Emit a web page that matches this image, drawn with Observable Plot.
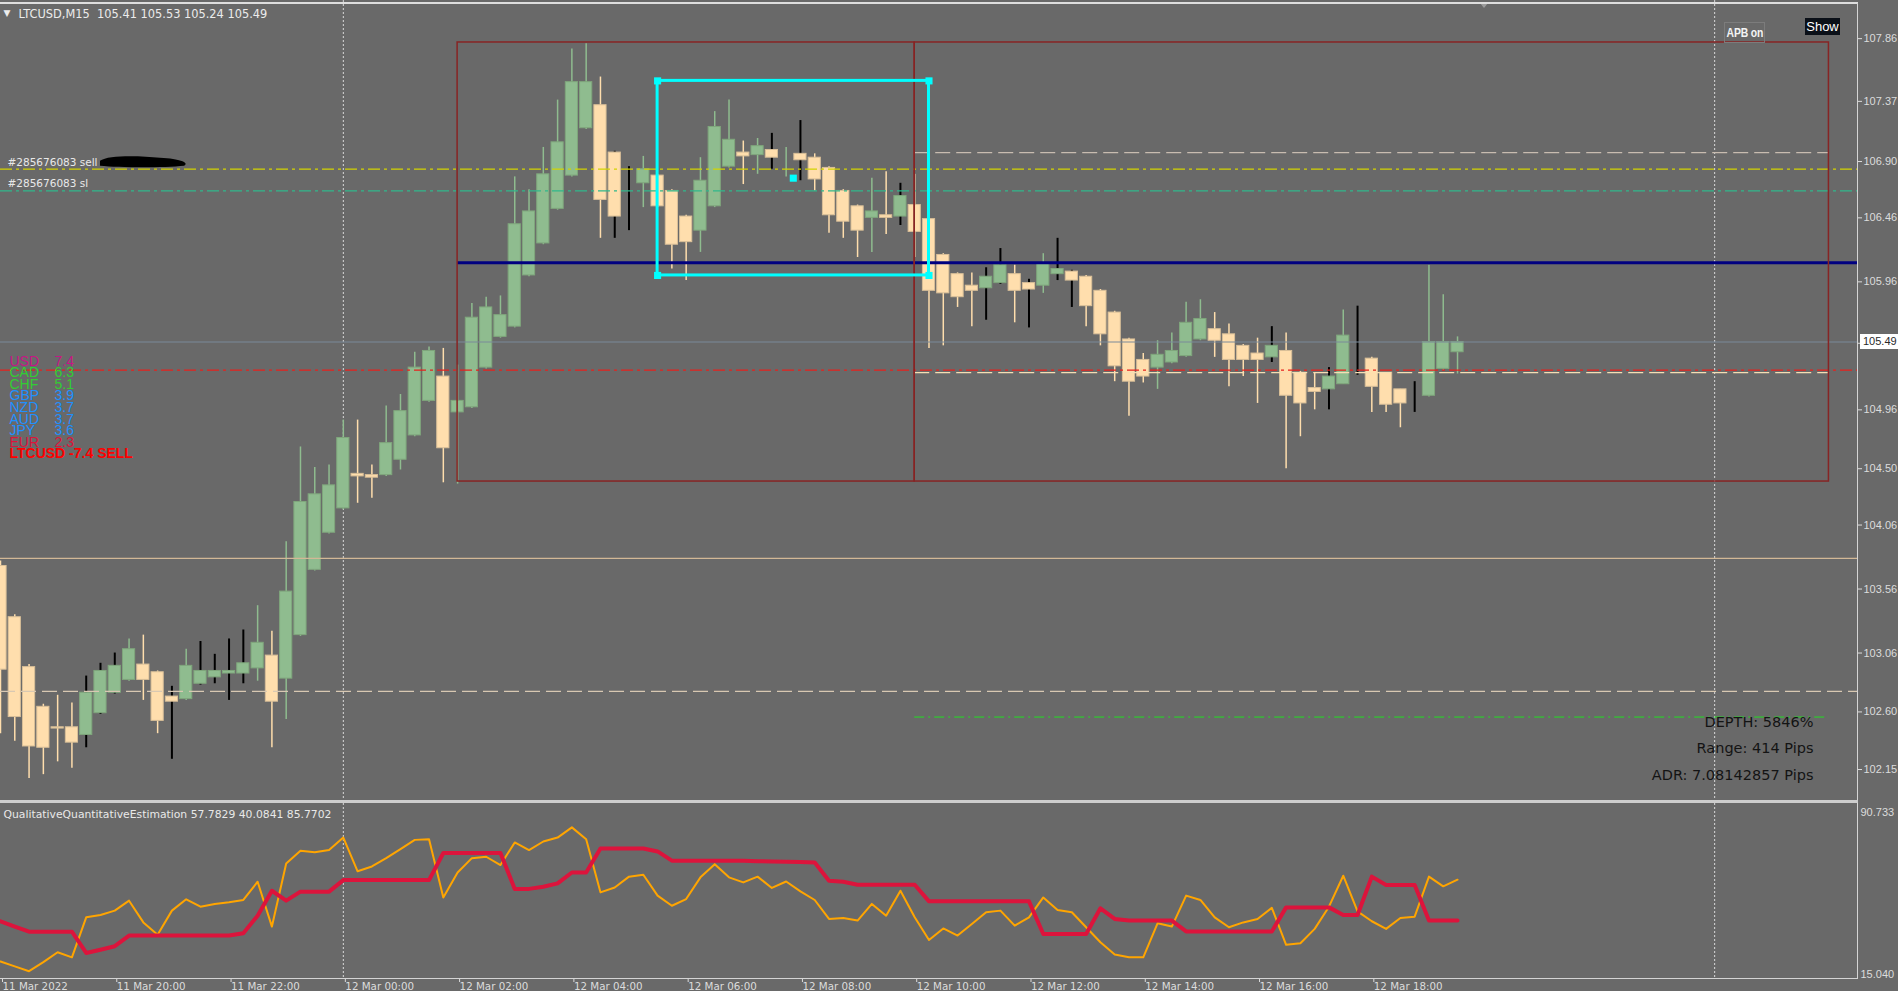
<!DOCTYPE html>
<html><head><meta charset="utf-8">
<script src="https://cdn.jsdelivr.net/npm/d3@7"></script>
<script src="https://cdn.jsdelivr.net/npm/@observablehq/plot@0.6"></script>
<style>
html,body{margin:0;padding:0;background:#696969;overflow:hidden}
#wrap{position:relative;width:1898px;height:991px;background:#696969;font-family:"DejaVu Sans",sans-serif}
#wrap svg{position:absolute;left:0;overflow:hidden}
svg text{white-space:pre}
.ln{position:absolute;background:#d6d6d6}
.btn{position:absolute;box-sizing:border-box;display:flex;align-items:center;justify-content:center;white-space:nowrap;overflow:hidden}
</style></head>
<body><div id="wrap"></div>
<script>
// ---------------- DATA ----------------
const symbol = "LTCUSD", timeframe = "M15";
const firstBarTime = "2022-03-11T18:00:00Z";
const barMinutes = 15;
const opens = [103.74,103.34,102.95,102.64,102.48,102.48,102.42,102.59,102.75,102.85,
102.97,102.91,102.72,102.70,102.82,102.87,102.90,102.90,102.94,103.04,
102.86,103.20,103.71,104.00,104.19,104.46,104.45,104.45,104.57,104.76,
105.03,105.22,104.94,104.98,105.29,105.53,105.61,106.01,106.26,106.53,
106.79,107.16,107.34,106.97,106.73,106.73,106.79,106.67,106.47,106.36,
106.55,106.86,106.97,106.95,106.99,106.95,106.96,106.93,106.85,106.67,
106.55,106.46,106.48,106.47,106.56,106.45,106.17,106.02,105.93,105.91,
105.95,106.02,105.95,105.93,106.02,106.04,106.00,105.89,105.72,105.51,
105.35,105.29,105.33,105.38,105.51,105.59,105.55,105.46,105.40,105.37,
105.42,105.25,105.13,105.12,105.16,105.36,105.36,105.25,105.12,105.07,
105.07,105.28,105.41];
const highs = [103.78,103.36,102.97,102.66,102.73,102.67,102.88,102.98,103.06,103.17,
103.20,102.92,102.80,103.09,103.15,103.05,103.17,103.24,103.43,103.23,
103.93,104.67,104.51,104.53,104.88,104.88,104.53,104.99,105.08,105.41,
105.45,105.44,105.31,105.79,105.84,105.85,106.78,106.68,107.01,107.38,
107.78,107.82,107.56,106.98,106.86,106.94,106.80,106.68,106.48,106.93,
107.29,107.38,107.06,107.08,107.12,107.01,107.22,106.96,106.86,106.68,
106.56,106.77,106.82,106.73,106.80,106.46,106.18,106.03,106.03,106.07,
106.22,106.09,105.98,106.18,106.30,106.05,106.01,105.90,105.73,105.52,
105.40,105.50,105.56,105.80,105.82,105.72,105.63,105.47,105.52,105.61,
105.56,105.26,105.25,105.29,105.74,105.77,105.37,105.25,105.12,105.18,
106.09,105.86,105.53];
const lows = [102.43,102.37,102.08,102.11,102.21,102.16,102.32,102.58,102.74,102.84,
102.69,102.43,102.23,102.69,102.81,102.82,102.69,102.82,102.84,102.32,
102.54,103.19,103.70,103.99,104.18,104.23,104.27,104.44,104.49,104.75,
105.02,104.39,104.38,104.97,105.28,105.52,105.60,106.00,106.25,106.52,
106.78,107.15,106.30,106.30,106.36,106.54,106.54,106.06,105.97,106.19,
106.54,106.85,106.72,106.80,106.84,106.78,106.75,106.67,106.34,106.30,
106.15,106.19,106.33,106.40,106.15,105.44,105.46,105.76,105.61,105.66,
105.94,105.64,105.60,105.87,105.97,105.76,105.61,105.46,105.18,104.91,
105.17,105.12,105.32,105.37,105.50,105.37,105.14,105.22,105.01,105.33,
104.50,104.75,104.96,104.96,105.16,105.23,104.94,104.94,104.82,104.94,
105.06,105.27,105.24];
const closes = [102.93,102.56,102.33,102.32,102.47,102.36,102.75,102.92,102.96,103.09,
102.85,102.53,102.68,102.96,102.92,102.92,102.92,102.98,103.14,102.68,
103.54,104.24,104.30,104.37,104.74,104.44,104.43,104.70,104.95,105.29,
105.42,104.66,105.03,105.68,105.76,105.70,106.41,106.51,106.80,107.05,
107.52,107.52,106.60,106.47,106.73,106.84,106.55,106.25,106.27,106.75,
107.17,107.07,106.94,107.02,106.93,106.95,106.91,106.76,106.48,106.43,
106.36,106.51,106.46,106.63,106.35,105.89,105.87,105.84,105.89,106.00,
106.09,105.89,105.90,106.10,106.06,105.97,105.77,105.55,105.30,105.18,
105.22,105.39,105.42,105.64,105.67,105.50,105.35,105.35,105.35,105.46,
105.07,105.01,105.10,105.22,105.54,105.36,105.14,105.00,105.01,105.07,
105.49,105.49,105.49];
// bars whose wick is painted black by an overlay indicator
const blackWickBars = [6,7,8,12,14,15,16,17,43,44,54,56,63,69,70,72,74,75,89,93,95,99];

// QualitativeQuantitativeEstimation buffers
const qqeFast = [22.4,20.3,18.2,22.1,26.4,24.2,41.5,42.5,44.4,48.7,
39.3,34.0,44.4,49.3,46.1,47.3,48.0,49.0,56.9,37.5,
64.8,70.3,69.6,70.6,76.0,61.4,63.5,67.1,71.0,75.0,
75.3,50.1,60.9,67.1,67.7,64.1,73.9,70.6,74.3,76.0,
80.4,75.3,52.3,54.4,59.1,59.9,50.9,46.5,49.4,58.8,
64.5,58.8,56.6,59.1,54.2,57.0,52.7,49.0,40.8,41.2,
40.1,47.3,42.2,53.0,41.5,31.7,36.7,33.6,38.6,43.7,
44.4,37.9,41.5,50.1,44.7,43.7,37.2,30.7,25.4,24.2,
24.2,38.9,37.5,50.9,49.0,41.5,37.2,39.3,40.8,45.6,
29.6,30.3,36.5,46.1,59.5,44.1,39.8,36.5,41.2,41.8,
59.1,54.9,57.7829];
const qqeSlow = [39.8,37.5,35.3,35.3,35.3,35.3,26.1,27.5,29.0,33.6,
33.6,33.6,33.6,33.6,33.6,33.6,33.6,34.6,42.2,53.0,
48.7,52.6,52.6,52.6,57.6,57.6,57.6,57.6,57.6,57.6,
57.6,69.3,69.3,69.3,69.3,69.3,53.8,53.8,54.7,56.2,
60.9,60.9,71.3,71.3,71.3,71.3,70.0,66.0,66.0,66.0,
66.0,66.0,66.0,65.8,65.6,65.5,65.4,65.2,57.3,56.9,
55.6,55.6,55.6,55.6,55.6,48.4,48.4,48.4,48.4,48.4,
48.4,48.4,48.4,34.3,34.3,34.3,34.3,45.4,40.8,40.1,
40.1,40.1,40.1,35.4,35.4,35.4,35.4,35.4,35.4,35.4,
45.8,45.8,45.8,45.8,42.5,42.5,59.1,55.5,55.5,55.5,
40.0841,40.0841,40.0841];
const qqeThird = 85.7702;
const qqeRange = [15.040, 90.733];

const priceTicks = [107.86,107.37,106.90,106.46,105.96,105.48,104.96,104.50,104.06,103.56,103.06,102.60,102.15];
const timeTicks = ["2022-03-11T18:00Z","2022-03-11T20:00Z","2022-03-11T22:00Z","2022-03-12T00:00Z","2022-03-12T02:00Z","2022-03-12T04:00Z","2022-03-12T06:00Z","2022-03-12T08:00Z","2022-03-12T10:00Z","2022-03-12T12:00Z","2022-03-12T14:00Z","2022-03-12T16:00Z","2022-03-12T18:00Z"];
const daySeparators = ["2022-03-12T00:00Z","2022-03-13T00:00Z"];

// chart objects
const zoneTimes = ["2022-03-12T02:00Z","2022-03-12T10:00Z","2022-03-13T02:00Z"];
const zonePrices = [104.40, 107.83];
const boxTimes = ["2022-03-12T05:30Z","2022-03-12T10:15Z"];
const boxPrices = [106.01, 107.53];
const pivotLevel = 106.11;
const tradeLabels = ["#285676083 sell", "#285676083 sl"];
const tradeLevels = [106.84, 106.67];
const redLevel = 105.27, tanLevel = 103.80, tanDashLevel = 102.76;
const zoneLevels = [106.97, 105.25, 102.56];

const currencies = ["USD","CAD","CHF","GBP","NZD","AUD","JPY","EUR"];
const strengths = [7.4,6.3,5.1,3.9,3.7,3.7,3.6,2.3];
const signalScore = -7.4, signalSide = "SELL";
const statsLabels = ["DEPTH: 5846%", "Range: 414 Pips", "ADR: 7.08142857 Pips"];

// ---------------- BUILD ----------------
const t0 = new Date(firstBarTime);
const barTime = i => new Date(+t0 + i * barMinutes * 60000);
const bars = opens.map((o, i) => ({t: barTime(i), o, h: highs[i], l: lows[i], c: closes[i], black: blackWickBars.includes(i)}));
const qqe = qqeFast.map((f, i) => ({t: barTime(i), fast: f, slow: qqeSlow[i]}));
const last = bars[bars.length - 1];
const viewEnd = barTime(130);
const D = s => new Date(s);

const BULL = "#8fbc8f", BEAR = "#ffdead";
const halfBody = 6.4 * 60000;
const xScale = {type: "utc", domain: [t0, viewEnd], range: [0, 1857]};
const font = "DejaVu Sans, sans-serif";
const arial = "Liberation Sans, Arial, sans-serif";
const strengthColor = v => v >= 7 ? "#c71585" : v >= 5 ? "#32cd32" : v >= 3 ? "#1e90ff" : "#dc143c";

const wrap = document.getElementById("wrap");

const zones = [{x1: D(zoneTimes[0]), x2: D(zoneTimes[1])}, {x1: D(zoneTimes[1]), x2: D(zoneTimes[2])}];
const box = {x1: D(boxTimes[0]), x2: D(boxTimes[1]), y1: boxPrices[0], y2: boxPrices[1]};
const handles = [
  {x: box.x1, y: box.y2}, {x: box.x2, y: box.y2}, {x: box.x1, y: box.y1}, {x: box.x2, y: box.y1},
  {x: new Date((+box.x1 + +box.x2) / 2), y: (box.y1 + box.y2) / 2}
];

const mainPlot = Plot.plot({
  width: 1898, height: 800,
  marginLeft: 0, marginTop: 0, marginBottom: 0, marginRight: 41,
  x: {...xScale, axis: null},
  y: {domain: [101.908, 108.158], range: [800, 0], axis: null},
  style: {background: "transparent", color: "#dcdcdc", fontFamily: font, fontSize: "11px"},
  marks: [
    Plot.ruleX(daySeparators.map(D), {stroke: "#d8d8d8", strokeDasharray: "2,2", strokeWidth: 1}),
    // candles
    Plot.ruleX(bars.filter(d => !d.black), {x: "t", y1: "l", y2: "h", stroke: d => d.c >= d.o ? BULL : BEAR, strokeWidth: 1.5}),
    Plot.ruleX(bars.filter(d => d.black), {x: "t", y1: "l", y2: "h", stroke: "#000", strokeWidth: 2}),
    Plot.rect(bars, {
      x1: d => new Date(+d.t - halfBody), x2: d => new Date(+d.t + halfBody),
      y1: "o", y2: "c",
      fill: d => d.c >= d.o ? BULL : BEAR,
      stroke: d => d.c >= d.o ? "#7fa67c" : "#d9bf98", strokeWidth: 1
    }),
    // horizontal objects
    Plot.ruleY([tanLevel], {stroke: "#d2b896", strokeWidth: 1.2}),
    Plot.ruleY([tanDashLevel], {stroke: "#d8c8b2", strokeWidth: 1.2, strokeDasharray: "15,6"}),
    Plot.ruleY([tradeLevels[0]], {stroke: "#d4d400", strokeWidth: 1.3, strokeDasharray: "12,4,3,4"}),
    Plot.ruleY([tradeLevels[1]], {stroke: "#30b88c", strokeWidth: 1.3, strokeDasharray: "12,4,3,4"}),
    Plot.ruleY([redLevel], {stroke: "#e8201c", strokeWidth: 1.2, strokeDasharray: "12,4,3,4"}),
    Plot.ruleY([zoneLevels[0]], {x1: D(zoneTimes[1]), x2: D(zoneTimes[2]), stroke: "#c8bcb0", strokeWidth: 1.3, strokeDasharray: "15,6"}),
    Plot.ruleY([zoneLevels[1]], {x1: D(zoneTimes[1]), x2: D(zoneTimes[2]), stroke: "#f5deb3", strokeWidth: 1.3, strokeDasharray: "15,6"}),
    Plot.ruleY([zoneLevels[2]], {x1: D(zoneTimes[1]), x2: D(zoneTimes[2]), stroke: "#22dd22", strokeWidth: 1, strokeDasharray: "10,4,2,4"}),
    Plot.ruleY([last.c], {stroke: "#7b8a9a", strokeWidth: 1}),
    Plot.ruleY([pivotLevel], {x1: D(zoneTimes[0]), x2: viewEnd, stroke: "#000080", strokeWidth: 3}),
    Plot.rect(zones, {x1: "x1", x2: "x2", y1: zonePrices[0], y2: zonePrices[1], fill: "none", stroke: "#872424", strokeWidth: 1.5}),
    Plot.rect([box], {x1: "x1", x2: "x2", y1: "y1", y2: "y2", fill: "none", stroke: "#00ffff", strokeWidth: 3}),
    Plot.dot(handles, {x: "x", y: "y", symbol: "square", r: 4, fill: "#00ffff", stroke: "none"}),
    // texts
    Plot.text([`${symbol},${timeframe}  ${last.o.toFixed(2)} ${last.h.toFixed(2)} ${last.l.toFixed(2)} ${last.c.toFixed(2)}`],
      {frameAnchor: "top-left", dx: 18, dy: 14, textAnchor: "start", lineAnchor: "middle", fill: "#ececec", fontSize: 11.4}),
    Plot.text(["▼"], {frameAnchor: "top-left", dx: 3, dy: 13, textAnchor: "start", lineAnchor: "middle", fill: "#ececec", fontSize: 9}),
    Plot.text(tradeLabels, {y: (d, i) => tradeLevels[i], frameAnchor: "left", dx: 7, dy: -7, textAnchor: "start", fill: "#e8e8e8", fontSize: 10.5}),
    ...currencies.map((c, i) => Plot.text([c], {frameAnchor: "top-left", dx: 9, dy: 360.7 + 11.6 * i, textAnchor: "start", lineAnchor: "middle", fill: strengthColor(strengths[i]), fontSize: 14, fontFamily: arial})),
    ...strengths.map((v, i) => Plot.text([v.toFixed(1)], {frameAnchor: "top-left", dx: 54, dy: 360.7 + 11.6 * i, textAnchor: "start", lineAnchor: "middle", fill: strengthColor(v), fontSize: 14, fontFamily: arial})),
    Plot.text([`${symbol} ${signalScore.toFixed(1)} ${signalSide}`], {frameAnchor: "top-left", dx: 9, dy: 360.7 + 11.6 * currencies.length, textAnchor: "start", lineAnchor: "middle", fill: "#ff0000", fontWeight: "bold", fontSize: 14, fontFamily: arial}),
    ...statsLabels.map((s, i) => Plot.text([s], {frameAnchor: "top-right", dx: -44, dy: 721.7 + 26.6 * i, textAnchor: "end", lineAnchor: "middle", fill: "#141414", fontSize: 14.5})),
    Plot.axisY(priceTicks, {anchor: "right", label: null, tickSize: 4, tickPadding: 2, tickFormat: d => d.toFixed(2), fontSize: 11, fontFamily: arial})
  ]
});
mainPlot.style.top = "0px";
wrap.appendChild(mainPlot);

// current price tag, redaction scribble, shift marker
{
  const ys = mainPlot.scale("y");
  const yp = ys.apply(last.c);
  const g = d3.select(mainPlot).append("g").attr("text-anchor", "start");
  g.append("rect").attr("x", 1860).attr("y", yp - 7.5).attr("width", 40).attr("height", 15).attr("fill", "#ffffff");
  g.append("text").attr("x", 1863).attr("y", yp).attr("dy", "0.35em").attr("fill", "#2a2a2a")
    .attr("font-size", 11).attr("font-family", arial).text(last.c.toFixed(2));
  const yl = ys.apply(tradeLevels[0]) - 7;
  g.append("path").attr("fill", "#000")
    .attr("d", `M100,${yl-1} C108,${yl-7} 140,${yl-6} 160,${yl-4} C180,${yl-3} 190,${yl+1} 184,${yl+4} C165,${yl+6} 120,${yl+6} 100,${yl+4} Z`);
  g.append("path").attr("fill", "#9c9c9c").attr("d", "M1480,3 L1488,3 L1484,8 Z");
}

const fmtTick = d3.utcFormat("%-d %b %H:%M");
const subPlot = Plot.plot({
  width: 1898, height: 188,
  marginLeft: 0, marginTop: 0, marginBottom: 12, marginRight: 41,
  x: {...xScale, axis: null},
  y: {domain: qqeRange, range: [175, 0], axis: null},
  style: {background: "transparent", color: "#dcdcdc", fontFamily: font, fontSize: "10px"},
  marks: [
    Plot.ruleX(daySeparators.map(D), {stroke: "#d8d8d8", strokeDasharray: "2,2", strokeWidth: 1}),
    Plot.line(qqe, {x: "t", y: "fast", stroke: "#ffa500", strokeWidth: 2}),
    Plot.line(qqe, {x: "t", y: "slow", stroke: "#dc143c", strokeWidth: 4}),
    Plot.text([`QualitativeQuantitativeEstimation ${qqeFast[qqeFast.length-1].toFixed(4)} ${qqeSlow[qqeSlow.length-1].toFixed(4)} ${qqeThird.toFixed(4)}`],
      {frameAnchor: "top-left", dx: 3, dy: 11, textAnchor: "start", lineAnchor: "middle", fill: "#e8e8e8", fontSize: 10.8}),
    Plot.text([qqeRange[1]], {y: d => d, frameAnchor: "right", dx: 3, dy: 5, textAnchor: "start", lineAnchor: "top", text: d => d.toFixed(3), fill: "#dcdcdc", fontSize: 11, fontFamily: arial}),
    Plot.text([qqeRange[0]], {y: d => d, frameAnchor: "right", dx: 3, dy: -1, textAnchor: "start", lineAnchor: "bottom", text: d => d.toFixed(3), fill: "#dcdcdc", fontSize: 11, fontFamily: arial}),
    Plot.axisX(timeTicks.map(D), {anchor: "bottom", label: null, tickSize: 3, tickPadding: 0, textAnchor: "start", dx: 2,
      tickFormat: (d, i) => i === 0 ? d3.utcFormat("%-d %b %Y")(d) : fmtTick(d), fontSize: 10.3})
  ]
});
subPlot.style.top = "803px";
wrap.appendChild(subPlot);

// window chrome: borders, separator, buttons
const addDiv = (cls, css, html) => { const d = document.createElement("div"); d.className = cls; d.style.cssText = css; if (html) d.innerHTML = html; wrap.appendChild(d); return d; };
addDiv("ln", "left:0;top:2px;width:1858px;height:2px;background:#dedede");
addDiv("ln", "left:1857px;top:3px;width:1px;height:976px;background:#d4d4d4");
addDiv("ln", "left:0;top:800px;width:1858px;height:3px;background:#cdcdcd");
addDiv("ln", "left:0;top:978px;width:1858px;height:1px;background:#d4d4d4");
addDiv("btn", "left:1724px;top:22px;width:41px;height:21px;border:1px solid #7c7c7c;color:#f4f4f4",
  "<span style=\"display:inline-block;font:bold 13px 'Liberation Sans',Arial,sans-serif;transform:scaleX(0.8);letter-spacing:-0.2px\">APB on</span>");
addDiv("btn", "left:1805px;top:18px;width:35px;height:17px;background:#0b1018;color:#ffffff;font:13px 'Liberation Sans',Arial,sans-serif", "Show");
</script></body></html>
